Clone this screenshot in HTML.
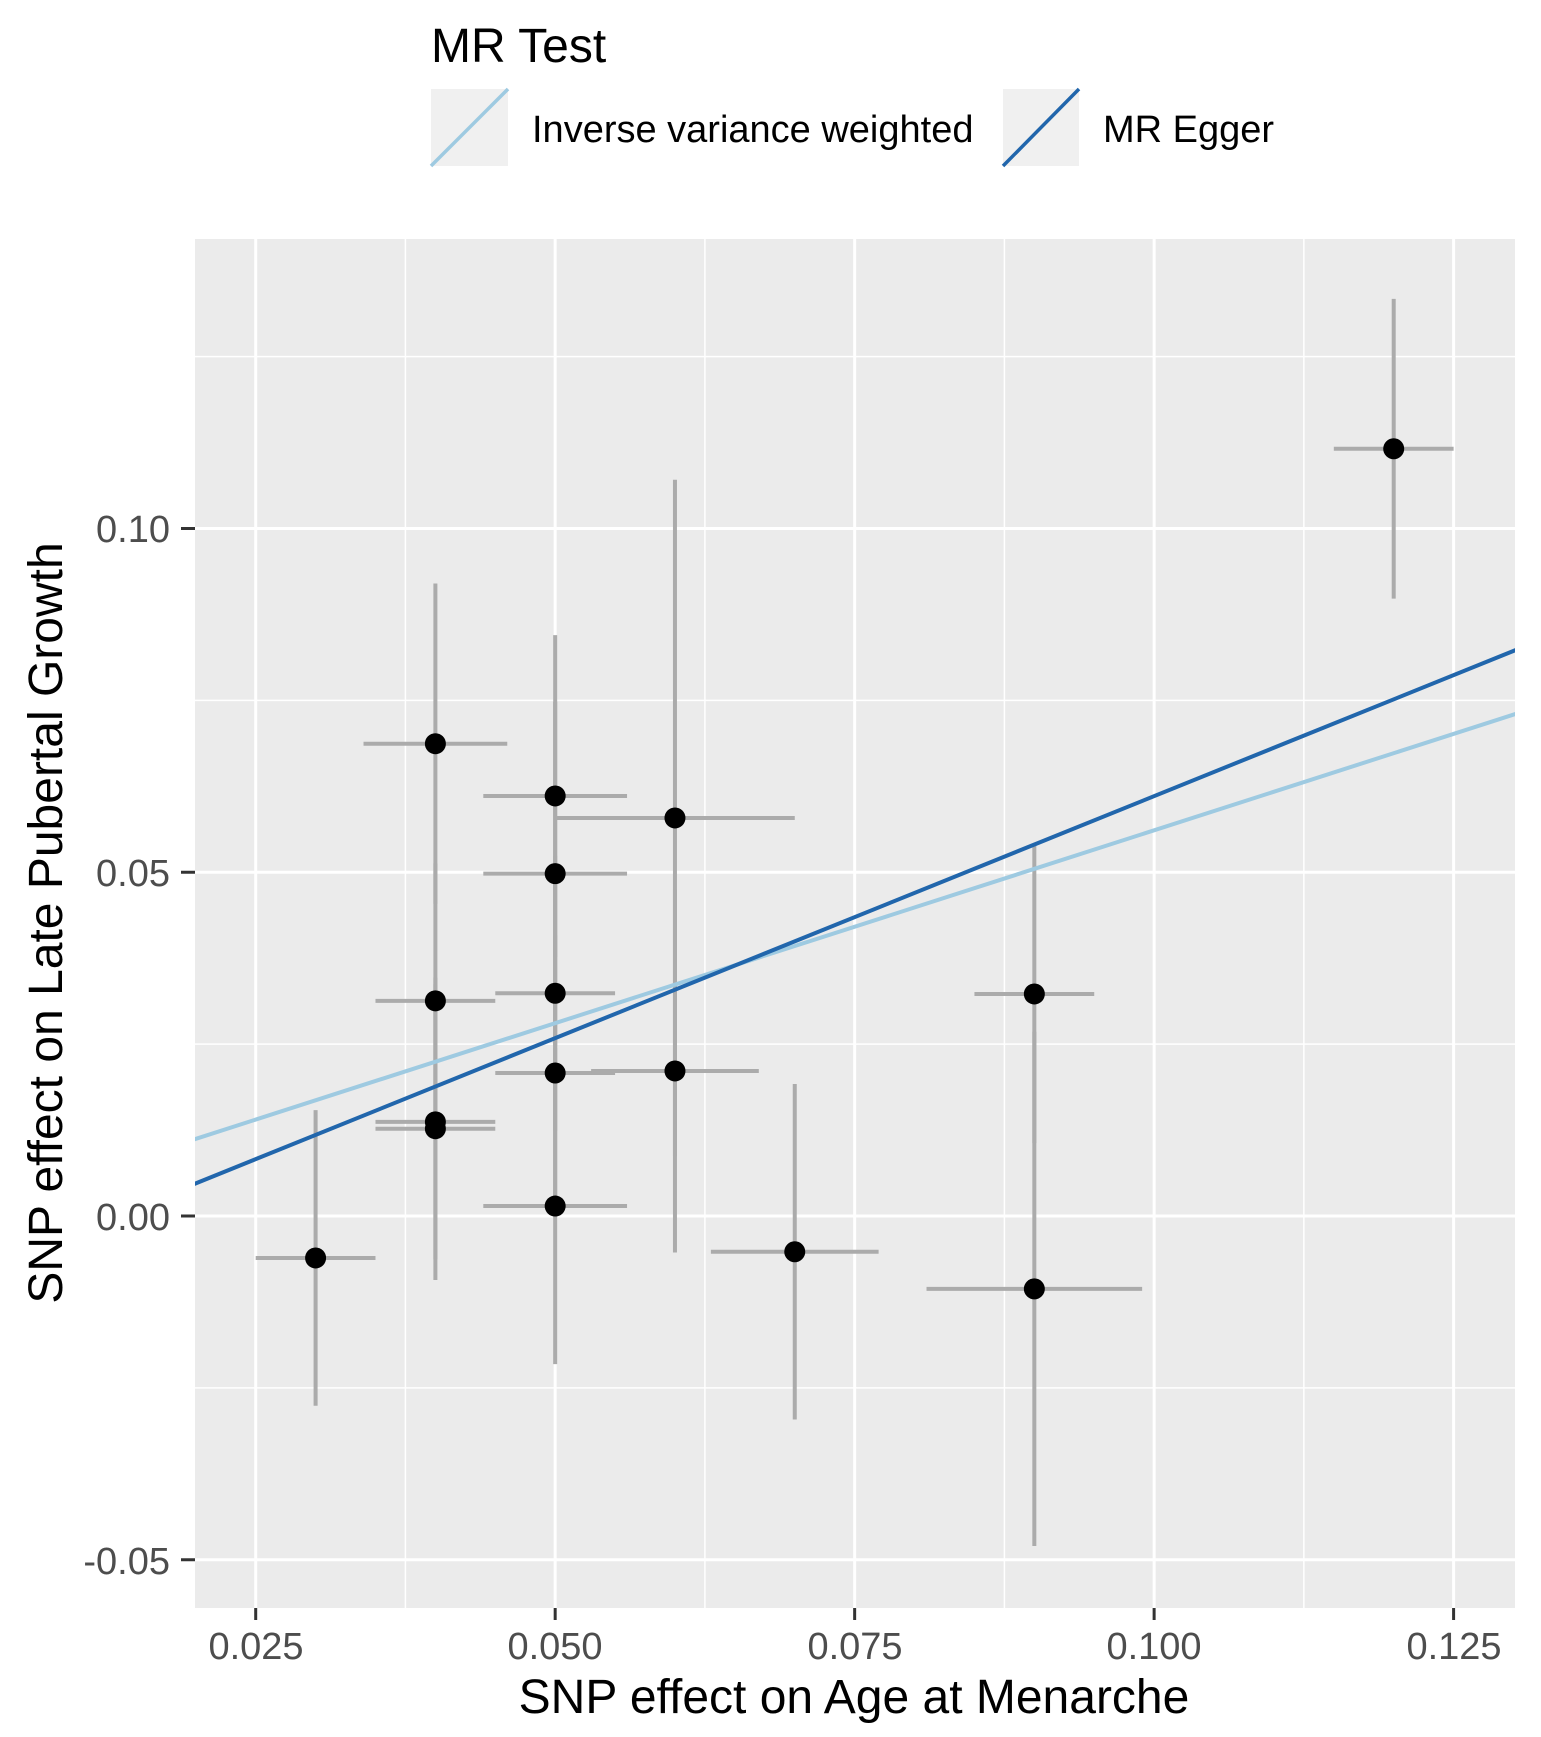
<!DOCTYPE html>
<html><head><meta charset="utf-8"><style>html,body{margin:0;padding:0;background:#fff}svg{display:block}</style></head>
<body>
<svg id="s" width="1541" height="1737" viewBox="0 0 1541 1737" xmlns="http://www.w3.org/2000/svg" font-family="Liberation Sans, Arial, sans-serif">
<rect x="0" y="0" width="1541" height="1737" fill="#fff"/>
<defs><clipPath id="c"><rect x="195" y="239" width="1320" height="1369"/></clipPath></defs>
<rect x="195" y="239" width="1320" height="1369" fill="#ebebeb"/>
<g id="grid" clip-path="url(#c)"></g>
<g id="data" clip-path="url(#c)"></g>
<g id="ticks" stroke="#333" stroke-width="3"></g>
<g font-size="38" fill="#4d4d4d" text-anchor="end">
<text x="170" y="542">0.10</text>
<text x="170" y="886">0.05</text>
<text x="170" y="1230">0.00</text>
<text x="170" y="1574">-0.05</text>
</g>
<g id="xl" font-size="38" fill="#4d4d4d" text-anchor="middle">
<text x="256" y="1659">0.025</text>
<text x="555" y="1659">0.050</text>
<text x="855" y="1659">0.075</text>
<text x="1154" y="1659">0.100</text>
<text x="1454" y="1659">0.125</text>
</g>
<text x="854" y="1713" font-size="48" text-anchor="middle" fill="#000">SNP effect on Age at Menarche</text>
<text transform="translate(62,923) rotate(-90)" font-size="48" text-anchor="middle" fill="#000">SNP effect on Late Pubertal Growth</text>
<text x="431" y="62" font-size="48" fill="#000">MR Test</text>
<rect x="431" y="89" width="77" height="77" fill="#f0f0f0"/>
<line x1="431" y1="166" x2="508" y2="89" stroke="#9ecae1" stroke-width="3.5"/>
<rect x="1003" y="89" width="76" height="77" fill="#f0f0f0"/>
<line x1="1003" y1="166" x2="1079" y2="89" stroke="#2166ac" stroke-width="3.5"/>
<text x="532" y="142" font-size="38" fill="#000">Inverse variance weighted</text>
<text x="1103" y="142" font-size="38" fill="#000">MR Egger</text>
</svg>
<script>
var NS="http://www.w3.org/2000/svg";
function X(v){return 255.7+(v-0.025)*11979;}
function Y(v){return 1216-v*6875;}
function el(p,t,a){var e=document.createElementNS(NS,t);for(var k in a)e.setAttribute(k,a[k]);document.getElementById(p).appendChild(e);return e;}
[0.0375,0.0625,0.0875,0.1125].forEach(function(v){el("grid","line",{x1:X(v),x2:X(v),y1:239,y2:1608,stroke:"#fff","stroke-width":1.5});});
[-0.025,0.025,0.075,0.125].forEach(function(v){el("grid","line",{x1:195,x2:1515,y1:Y(v),y2:Y(v),stroke:"#fff","stroke-width":1.5});});
[0.025,0.05,0.075,0.1,0.125].forEach(function(v){el("grid","line",{x1:X(v),x2:X(v),y1:239,y2:1608,stroke:"#fff","stroke-width":3});el("ticks","line",{x1:X(v),x2:X(v),y1:1608,y2:1620});});
[-0.05,0,0.05,0.1].forEach(function(v){el("grid","line",{x1:195,x2:1515,y1:Y(v),y2:Y(v),stroke:"#fff","stroke-width":3});el("ticks","line",{x1:181,x2:195,y1:Y(v),y2:Y(v)});});
var P=[[0.03,-0.0061,0.005,0.0215],[0.04,0.0687,0.006,0.0233],[0.04,0.0313,0.005,0.02],[0.04,0.0137,0.005,0.02],[0.04,0.0127,0.005,0.022],
[0.05,0.0611,0.006,0.0234],[0.05,0.0498,0.006,0.025],[0.05,0.0324,0.005,0.02],[0.05,0.0208,0.005,0.02],[0.05,0.00145,0.006,0.023],
[0.06,0.0579,0.01,0.0492],[0.06,0.0211,0.007,0.0264],[0.07,-0.0052,0.007,0.0244],[0.09,0.0323,0.005,0.0217],[0.09,-0.0106,0.009,0.0374],[0.12,0.1116,0.005,0.0218]];
var g="#ababab";
P.forEach(function(p){el("data","line",{x1:X(p[0]),x2:X(p[0]),y1:Y(p[1]-p[3]),y2:Y(p[1]+p[3]),stroke:g,"stroke-width":4});
el("data","line",{x1:X(p[0]-p[2]),x2:X(p[0]+p[2]),y1:Y(p[1]),y2:Y(p[1]),stroke:g,"stroke-width":4});});
var x0=0.0195,x1=0.131;
el("data","line",{x1:X(x0),y1:Y(0.561*x0),x2:X(x1),y2:Y(0.561*x1),stroke:"#9ecae1","stroke-width":4});
el("data","line",{x1:X(x0),y1:Y(0.704*x0-0.00933),x2:X(x1),y2:Y(0.704*x1-0.00933),stroke:"#2166ac","stroke-width":4});
P.forEach(function(p){el("data","circle",{cx:X(p[0]),cy:Y(p[1]),r:10.5,fill:"#000"});});
</script>
</body></html>
